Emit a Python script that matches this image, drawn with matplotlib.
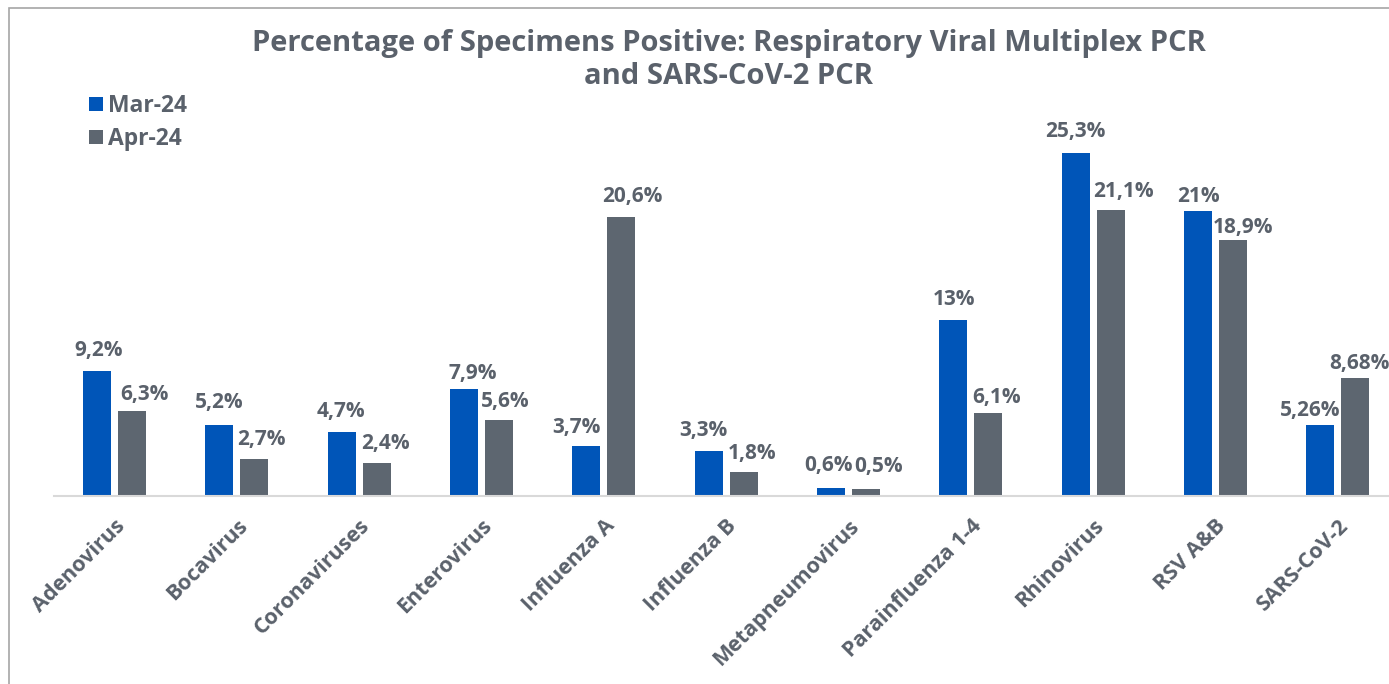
import numpy as np
import matplotlib.pyplot as plt
from matplotlib.patches import Rectangle

categories = ['Adenovirus', 'Bocavirus', 'Coronaviruses', 'Enterovirus', 'Influenza A',
              'Influenza B', 'Metapneumovirus', 'Parainfluenza 1-4', 'Rhinovirus',
              'RSV A&B', 'SARS-CoV-2']
mar24 = [9.2, 5.2, 4.7, 7.9, 3.7, 3.3, 0.6, 13, 25.3, 21, 5.26]
apr24 = [6.3, 2.7, 2.4, 5.6, 20.6, 1.8, 0.5, 6.1, 21.1, 18.9, 8.68]
mar_labels = ['9,2%', '5,2%', '4,7%', '7,9%', '3,7%', '3,3%', '0,6%', '13%', '25,3%', '21%', '5,26%']
apr_labels = ['6,3%', '2,7%', '2,4%', '5,6%', '20,6%', '1,8%', '0,5%', '6,1%', '21,1%', '18,9%', '8,68%']

# hand-placed label nudges (pixels): (dx, gap above bar)
mar_nudge = [(1, 15), (0, 17), (-1, 15), (9, 10), (-10, 13), (-5, 15), (-3, 17),
             (1, 15), (0, 16), (0, 9), (-10, 9)]
apr_nudge = [(12, 11), (7, 14), (9, 14), (6, 13), (11, 15), (8, 13), (13, 17),
             (8, 10), (13, 13), (10, 7), (4, 9)]

blue = '#0055b8'
grey = '#5d6670'
txt = '#5a616b'

plt.rcParams['font.family'] = ['Open Sans', 'DejaVu Sans']

W, H = 1389, 684
fig = plt.figure(figsize=(W / 100, H / 100), dpi=100)
ax = fig.add_axes([53.5 / W, 1 - 496 / H, (1399 - 53.5) / W, 407 / H])

x = np.arange(len(categories))
bw = 0.229
off = (bw + 0.057) / 2
b1 = ax.bar(x - off, mar24, bw, color=blue, label='Mar-24')
b2 = ax.bar(x + off, apr24, bw, color=grey, label='Apr-24')

for bars, labels, nudge in [(b1, mar_labels, mar_nudge), (b2, apr_labels, apr_nudge)]:
    for rect, lab, (dx, dy) in zip(bars, labels, nudge):
        ax.annotate(lab, (rect.get_x() + rect.get_width() / 2, rect.get_height()),
                    xytext=(dx, dy), textcoords='offset pixels', ha='center', va='baseline',
                    fontsize=15, fontweight='bold', color=txt, annotation_clip=False)

ax.set_xlim(-0.5, len(categories) - 0.5)
ax.set_ylim(0, 30)
ax.set_yticks([])
for s in ['top', 'right', 'left']:
    ax.spines[s].set_visible(False)
ax.spines['bottom'].set_color('#d9d9d9')
ax.spines['bottom'].set_linewidth(1.5)
ax.set_xticks(x)
ax.set_xticklabels(categories, rotation=45, ha='right', rotation_mode='anchor',
                   fontsize=15.5, fontweight='bold', color=txt)
ax.tick_params(axis='x', length=0, pad=14)

fig.legend(handles=[b1, b2], loc='upper left', bbox_to_anchor=(89 / W, 1 - 94 / H),
           frameon=False, prop={'weight': 'bold', 'size': 16.5}, borderpad=0,
           handlelength=0.6, handleheight=0.6, handletextpad=0.25, labelspacing=0.4,
           borderaxespad=0, labelcolor=txt)

fig.text(729 / W, 1 - 60 / H,
         'Percentage of Specimens Positive: Respiratory Viral Multiplex PCR\nand SARS-CoV-2 PCR',
         ha='center', va='center', fontsize=21, fontweight='bold', color=txt, linespacing=1.15)

fig.patches.append(Rectangle((8.5 / W, -0.1), 2, 1.1 - 8.5 / H, transform=fig.transFigure,
                             fill=False, edgecolor='#a6a6a6', linewidth=1.2))

fig.savefig('out.png', dpi=100)
